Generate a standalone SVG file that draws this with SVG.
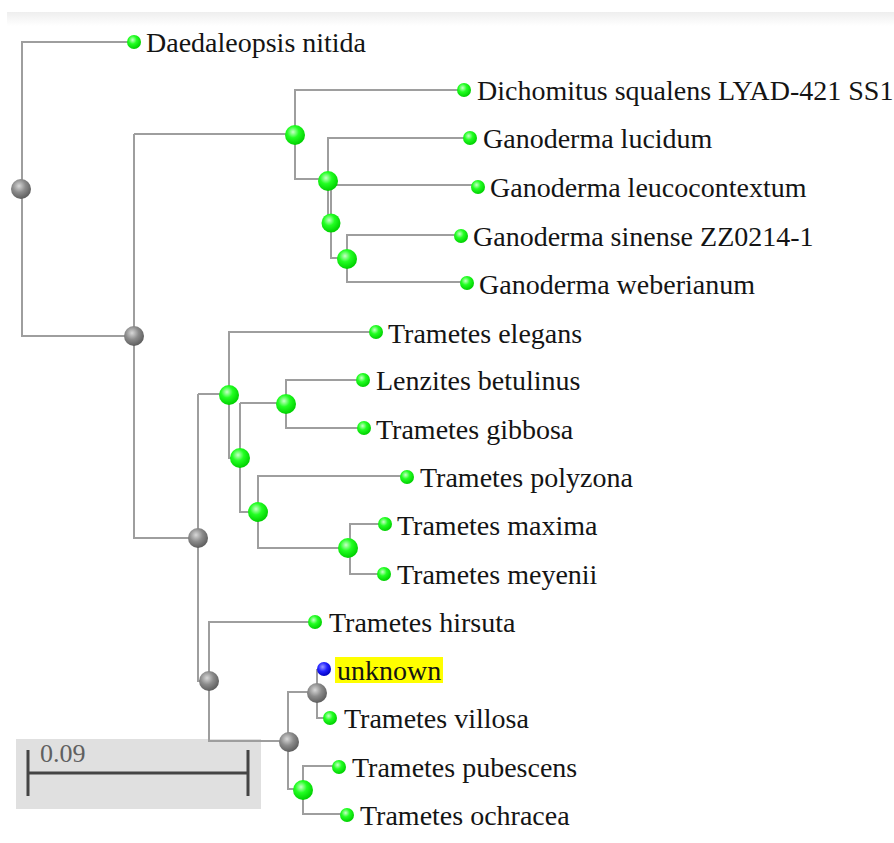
<svg xmlns="http://www.w3.org/2000/svg" width="894" height="843" viewBox="0 0 894 843">
<defs>
<radialGradient id="gGreen" cx="0.4" cy="0.35" r="0.65">
<stop offset="0" stop-color="#c8ffc8"/>
<stop offset="0.45" stop-color="#22ff22"/>
<stop offset="1" stop-color="#00d000"/>
</radialGradient>
<radialGradient id="gGray" cx="0.4" cy="0.35" r="0.65">
<stop offset="0" stop-color="#d8d8d8"/>
<stop offset="0.5" stop-color="#8c8c8c"/>
<stop offset="1" stop-color="#5e5e5e"/>
</radialGradient>
<radialGradient id="gBlue" cx="0.4" cy="0.35" r="0.65">
<stop offset="0" stop-color="#9999ff"/>
<stop offset="0.5" stop-color="#2222ff"/>
<stop offset="1" stop-color="#0000c0"/>
</radialGradient>
<linearGradient id="topband" x1="0" y1="0" x2="0" y2="1">
<stop offset="0" stop-color="#eeeeee"/>
<stop offset="1" stop-color="#ffffff"/>
</linearGradient>
</defs>
<style>
.br{fill:none;stroke:#9e9e9e;stroke-width:2}
.lab{font-family:"Liberation Serif","Times New Roman",serif;font-size:28px;fill:#141414}
.leaf{fill:url(#gGreen)}
.int{fill:url(#gGreen)}
.gry{fill:url(#gGray)}
.blu{fill:url(#gBlue)}
</style>
<rect x="0" y="0" width="894" height="843" fill="#ffffff"/>
<rect x="7" y="12" width="887" height="14" fill="url(#topband)"/>

<g id="scalebar">
<rect x="16" y="739" width="245" height="70" fill="#e0e0e0"/>
<path d="M28,750 V796 M248,750 V796 M28,773 H248" fill="none" stroke="#444444" stroke-width="3"/>
<text x="40" y="762" font-family="Liberation Serif, serif" font-size="26" fill="#606060">0.09</text>
</g>

<g id="connectors">
<path class="br" d="M134,42 H22 V336 H134"/>
<path class="br" d="M134,134 V538 H198"/>
<path class="br" d="M134,134 H295"/>
<path class="br" d="M464,90 H295 V179 H328"/>
<path class="br" d="M470,138 H328 V223"/>
<path class="br" d="M328,185 H478"/>
<path class="br" d="M331,181 V258 H347"/>
<path class="br" d="M461,235 H347 V282 H467"/>
<path class="br" d="M376,332 H229 V458 H240"/>
<path class="br" d="M198,394 H229"/>
<path class="br" d="M363,380 H286 V428 H364"/>
<path class="br" d="M240,403 H286"/>
<path class="br" d="M240,403 V512 H258"/>
<path class="br" d="M407,476 H258 V548 H348"/>
<path class="br" d="M385,524 H350 V574 H384"/>
<path class="br" d="M198,394 V681 H209"/>
<path class="br" d="M315,622 H209 V741 H289"/>
<path class="br" d="M324,670 H317 V718 H330"/>
<path class="br" d="M317,692 H288 V789 H303"/>
<path class="br" d="M339,766 H303 V814 H347"/>
</g>

<g id="n_root"><circle class="gry" cx="21" cy="189" r="10"/></g>
<g id="n_a"><circle class="gry" cx="134" cy="336" r="10"/></g>
<g id="n_ganoderma"><circle class="int" cx="295" cy="135" r="10"/></g>
<g id="n_g1"><circle class="int" cx="328" cy="181" r="10"/></g>
<g id="n_g2"><circle class="int" cx="331" cy="223" r="9.5"/></g>
<g id="n_g3"><circle class="int" cx="347" cy="259" r="10"/></g>
<g id="n_b"><circle class="gry" cx="198" cy="538" r="10"/></g>
<g id="n_t1"><circle class="int" cx="229" cy="395" r="10"/></g>
<g id="n_t2"><circle class="int" cx="240" cy="458" r="10"/></g>
<g id="n_t3"><circle class="int" cx="286" cy="404" r="10"/></g>
<g id="n_t4"><circle class="int" cx="258" cy="512" r="10"/></g>
<g id="n_t5"><circle class="int" cx="348" cy="548" r="10"/></g>
<g id="n_c"><circle class="gry" cx="209" cy="681" r="10"/></g>
<g id="n_d"><circle class="gry" cx="289" cy="742" r="10"/></g>
<g id="n_e"><circle class="gry" cx="317" cy="693" r="10"/></g>
<g id="n_f"><circle class="int" cx="303" cy="790" r="10"/></g>

<g id="leaf_daedaleopsis"><circle class="leaf" cx="134" cy="42" r="7"/><text class="lab" x="146" y="52">Daedaleopsis nitida</text></g>
<g id="leaf_dichomitus"><circle class="leaf" cx="464" cy="90" r="7"/><text class="lab" x="477" y="100">Dichomitus squalens LYAD-421 SS1</text></g>
<g id="leaf_lucidum"><circle class="leaf" cx="470" cy="138" r="7"/><text class="lab" x="483" y="148">Ganoderma lucidum</text></g>
<g id="leaf_leucocontextum"><circle class="leaf" cx="478" cy="187" r="7"/><text class="lab" x="490" y="197">Ganoderma leucocontextum</text></g>
<g id="leaf_sinense"><circle class="leaf" cx="461" cy="236" r="7"/><text class="lab" x="473" y="246">Ganoderma sinense ZZ0214-1</text></g>
<g id="leaf_weberianum"><circle class="leaf" cx="467" cy="283" r="7"/><text class="lab" x="479" y="294">Ganoderma weberianum</text></g>
<g id="leaf_elegans"><circle class="leaf" cx="376" cy="332" r="7"/><text class="lab" x="388" y="343">Trametes elegans</text></g>
<g id="leaf_lenzites"><circle class="leaf" cx="363" cy="380" r="7"/><text class="lab" x="376" y="390">Lenzites betulinus</text></g>
<g id="leaf_gibbosa"><circle class="leaf" cx="364" cy="428" r="7"/><text class="lab" x="376" y="439">Trametes gibbosa</text></g>
<g id="leaf_polyzona"><circle class="leaf" cx="407" cy="477" r="7"/><text class="lab" x="420" y="487">Trametes polyzona</text></g>
<g id="leaf_maxima"><circle class="leaf" cx="385" cy="524" r="7"/><text class="lab" x="397" y="535">Trametes maxima</text></g>
<g id="leaf_meyenii"><circle class="leaf" cx="384" cy="574" r="7"/><text class="lab" x="397" y="584">Trametes meyenii</text></g>
<g id="leaf_hirsuta"><circle class="leaf" cx="315" cy="622" r="7"/><text class="lab" x="329" y="632">Trametes hirsuta</text></g>
<g id="leaf_unknown"><rect x="335" y="657" width="108" height="26" fill="#ffff00"/><circle class="blu" cx="324" cy="669" r="7"/><text class="lab" x="337" y="680">unknown</text></g>
<g id="leaf_villosa"><circle class="leaf" cx="330" cy="718" r="7"/><text class="lab" x="344" y="728">Trametes villosa</text></g>
<g id="leaf_pubescens"><circle class="leaf" cx="339" cy="767" r="7"/><text class="lab" x="352" y="777">Trametes pubescens</text></g>
<g id="leaf_ochracea"><circle class="leaf" cx="347" cy="815" r="7"/><text class="lab" x="360" y="825">Trametes ochracea</text></g>
</svg>
